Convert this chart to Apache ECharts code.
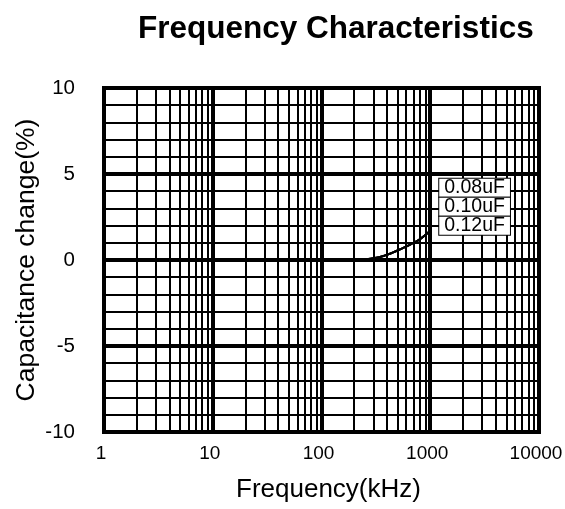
<!DOCTYPE html>
<html><head><meta charset="utf-8">
<script src="https://cdn.jsdelivr.net/npm/echarts@6/dist/echarts.min.js"></script>
<style>html,body{margin:0;padding:0;background:#fff}#c{width:565px;height:509px}</style>
</head><body><div id="c"></div>
<script>
var FONT = '"Liberation Sans", Arial, sans-serif';
var seriesNames = ['0.08uF', '0.10uF', '0.12uF'];
var freq = [1, 10, 100, 200, 300, 400, 500, 600, 700, 800, 900, 1000];
var cap008 = [0, 0, 0, 0, 0.1, 0.3, 0.55, 0.78, 1.0, 1.2, 1.45, 1.7];
var cap010 = [0, 0, 0, 0, 0.1, 0.3, 0.55, 0.78, 1.0, 1.2, 1.45, 1.7];
var cap012 = [0, 0, 0, 0, 0.1, 0.3, 0.55, 0.78, 1.0, 1.2, 1.45, 1.7];
var xTicks = [1, 10, 100, 1000, 10000];
var yTicks = [-10, -5, 0, 5, 10];
var labelOffsets = [-43, -24, -5];

var minorX = [];
for (var d = 0; d < xTicks.length - 1; d++) {
  for (var m = 2; m <= 9; m++) minorX.push({ xAxis: m * xTicks[d] });
}

function pairs(vals) { return freq.map(function (f, i) { return [f, vals[i]]; }); }
var allVals = [cap008, cap010, cap012];

var series = seriesNames.map(function (name, i) {
  var s = {
    name: name, type: 'line', data: pairs(allVals[i]), smooth: true,
    showSymbol: false, symbol: 'none', yAxisIndex: 0,
    lineStyle: { color: '#000', width: 2 },
    z: 5,
    endLabel: {
      show: true, formatter: name, distance: 9, offset: [0, labelOffsets[i]],
      color: '#000', fontFamily: FONT, fontSize: 19.5, lineHeight: 18,
      backgroundColor: '#fff', borderColor: '#000', borderWidth: 1,
      padding: [0, 5]
    }
  };
  if (i === 0) {
    s.markLine = {
      silent: true, symbol: 'none', animation: false,
      label: { show: false },
      lineStyle: { color: '#000', width: 2, type: 'solid' },
      emphasis: { disabled: true },
      data: minorX
    };
  }
  return s;
});

var chart = echarts.init(document.getElementById('c'));
chart.setOption({
  animation: false,
  backgroundColor: '#fff',
  title: {
    text: 'Frequency Characteristics', left: 133, top: 8,
    textStyle: { fontFamily: FONT, fontWeight: 'bold', fontSize: 31.5, color: '#000' }
  },
  grid: {
    left: 104, right: 26, top: 88, bottom: 77, show: true,
    outerBoundsMode: 'none', containLabel: false,
    borderColor: '#000', borderWidth: 4, backgroundColor: 'transparent'
  },
  xAxis: {
    type: 'log', logBase: 10, min: xTicks[0], max: xTicks[xTicks.length - 1], splitNumber: 4,
    name: 'Frequency(kHz)', nameLocation: 'middle', nameGap: 45, nameMoveOverlap: false,
    nameTextStyle: { fontFamily: FONT, fontSize: 26, color: '#000', padding: [0, 0, 0, 14] },
    axisLine: { show: false }, axisTick: { show: false },
    axisLabel: {
      color: '#000', fontFamily: FONT, fontSize: 19, margin: 12, padding: [0, 6, 0, 0],
      formatter: function (v) { return String(Math.round(v)); }
    },
    splitLine: { show: true, lineStyle: { color: '#000', width: 4 } }
  },
  yAxis: [{
    type: 'value', min: yTicks[0], max: yTicks[yTicks.length - 1], interval: 5,
    name: 'Capacitance change(%)', nameLocation: 'middle', nameGap: 64, nameMoveOverlap: false,
    nameTextStyle: { fontFamily: FONT, fontSize: 26.5, color: '#000' },
    axisLine: { show: false }, axisTick: { show: false },
    axisLabel: { color: '#000', fontFamily: FONT, fontSize: 20.5, margin: 29 },
    splitLine: { show: true, lineStyle: { color: '#000', width: 4 } },
    z: 3
  }, {
    type: 'value', min: yTicks[0], max: yTicks[yTicks.length - 1], interval: 1, position: 'left',
    axisLine: { show: false }, axisTick: { show: false }, axisLabel: { show: false },
    splitLine: { show: true, lineStyle: { color: '#000', width: 2 } },
    z: 2
  }],
  series: series
});
</script></body></html>
